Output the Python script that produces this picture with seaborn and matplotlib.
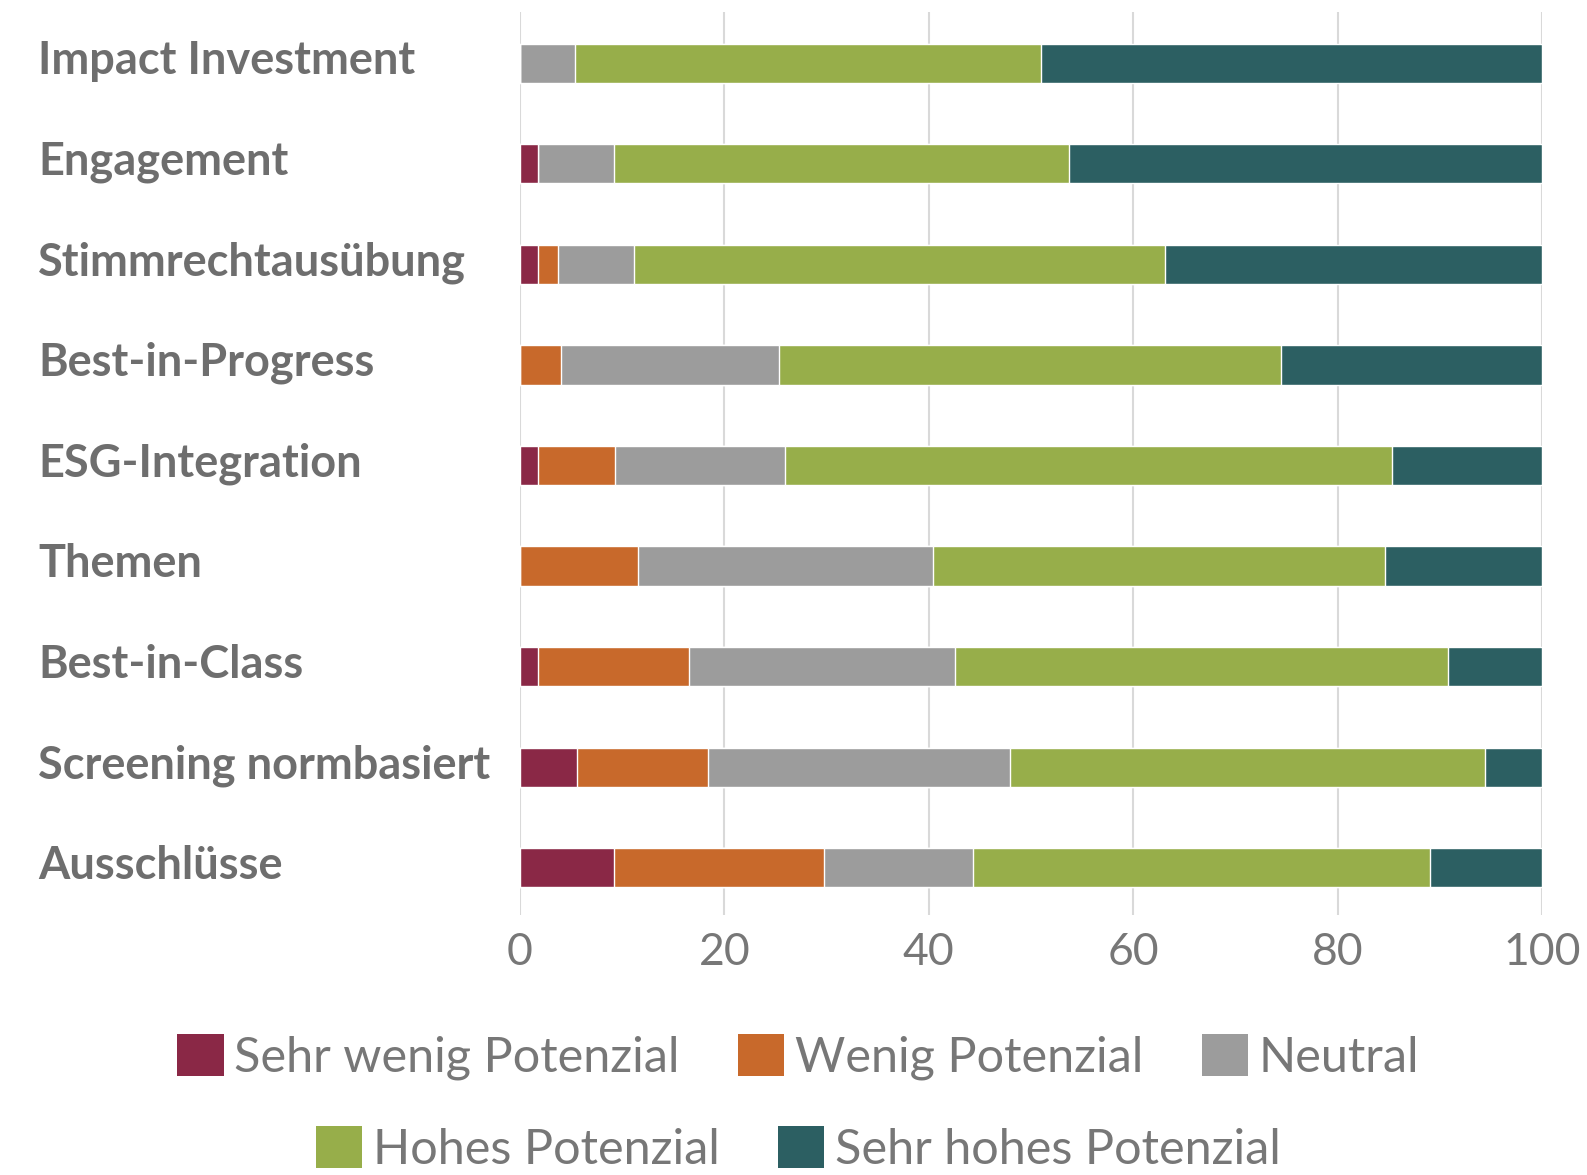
import numpy as np
import pandas as pd
import matplotlib
matplotlib.use("Agg")
import matplotlib.pyplot as plt
import matplotlib.transforms as mtransforms
import seaborn as sns
from matplotlib.patches import Patch

# -----------------------------
# Data (percent of respondents)
# -----------------------------
categories = ["Impact Investment", "Engagement", "Stimmrechtausübung", "Best-in-Progress",
              "ESG-Integration", "Themen", "Best-in-Class", "Screening normbasiert", "Ausschlüsse"]
series_names = ["Sehr wenig Potenzial", "Wenig Potenzial", "Neutral",
                "Hohes Potenzial", "Sehr hohes Potenzial"]
sehr_wenig = [0, 1.8, 1.8, 0, 1.8, 0, 1.8, 5.6, 9.2]
wenig = [0, 0, 1.9, 4.0, 7.5, 11.5, 14.7, 12.8, 20.5]
neutral = [5.4, 7.4, 7.5, 21.3, 16.6, 28.9, 26.1, 29.5, 14.6]
hohes = [45.6, 44.5, 51.9, 49.2, 59.4, 44.2, 48.2, 46.5, 44.7]
sehr_hohes = [49.0, 46.3, 36.9, 25.5, 14.7, 15.4, 9.2, 5.6, 11.0]
xticks = [0, 20, 40, 60, 80, 100]

colors = ["#8a2846", "#c8692b", "#9c9c9c", "#97ae4a", "#2c5f62"]
text_grey = "#6e6e6e"

df = pd.DataFrame({"category": categories,
                   series_names[0]: sehr_wenig,
                   series_names[1]: wenig,
                   series_names[2]: neutral,
                   series_names[3]: hohes,
                   series_names[4]: sehr_hohes})
cum = df[series_names].cumsum(axis=1)

# -----------------------------
# Plot
# -----------------------------
sns.set_theme(style="white")
plt.rcParams["font.family"] = ["Lato", "DejaVu Sans"]

fig = plt.figure(figsize=(15.87, 11.75), dpi=100)
ax = fig.add_axes([520 / 1587, 1 - 915 / 1175, 1022 / 1587, 903 / 1175])

# stacked bars: draw cumulative totals from the outside in
for name, col in reversed(list(zip(series_names, colors))):
    sns.barplot(x=cum[name], y=df["category"], orient="h", color=col,
                width=0.39, saturation=1, ax=ax)

ax.set_xlim(0, 100)
ax.set_ylim(8.47, -0.51)
ax.set_xticks(xticks)
ax.set_xlabel("")
ax.set_ylabel("")
ax.grid(axis="x", color="#d9d9d9", linewidth=1.5, zorder=0)
ax.set_axisbelow(True)
for s in ax.spines.values():
    s.set_visible(False)

ax.tick_params(axis="x", labelsize=32, labelcolor="#777777", pad=12, length=0)
ax.tick_params(axis="y", length=0, pad=347)
shift_up = mtransforms.ScaledTranslation(0, 6 / 100, fig.dpi_scale_trans)
for lab in ax.get_yticklabels():
    lab.set_ha("left")
    lab.set_fontsize(32.5)
    lab.set_fontweight("bold")
    lab.set_color(text_grey)
    lab.set_transform(lab.get_transform() + shift_up)

# legend in two centred rows
handles = [Patch(facecolor=c, edgecolor="none") for c in colors]
leg_kw = dict(frameon=False, handlelength=0.95, handleheight=0.95,
              handletextpad=0.22, columnspacing=1.2, labelcolor="#777777",
              prop={"family": ["Lato", "DejaVu Sans"], "size": 35})
fig.legend(handles[:3], series_names[:3], ncol=3, loc="center",
           bbox_to_anchor=(0.503, 1 - 1057 / 1175), **leg_kw)
fig.legend(handles[3:], series_names[3:], ncol=2, loc="center",
           bbox_to_anchor=(0.503, 1 - 1149 / 1175), **leg_kw)

fig.savefig("out.png", dpi=100, facecolor="white")
